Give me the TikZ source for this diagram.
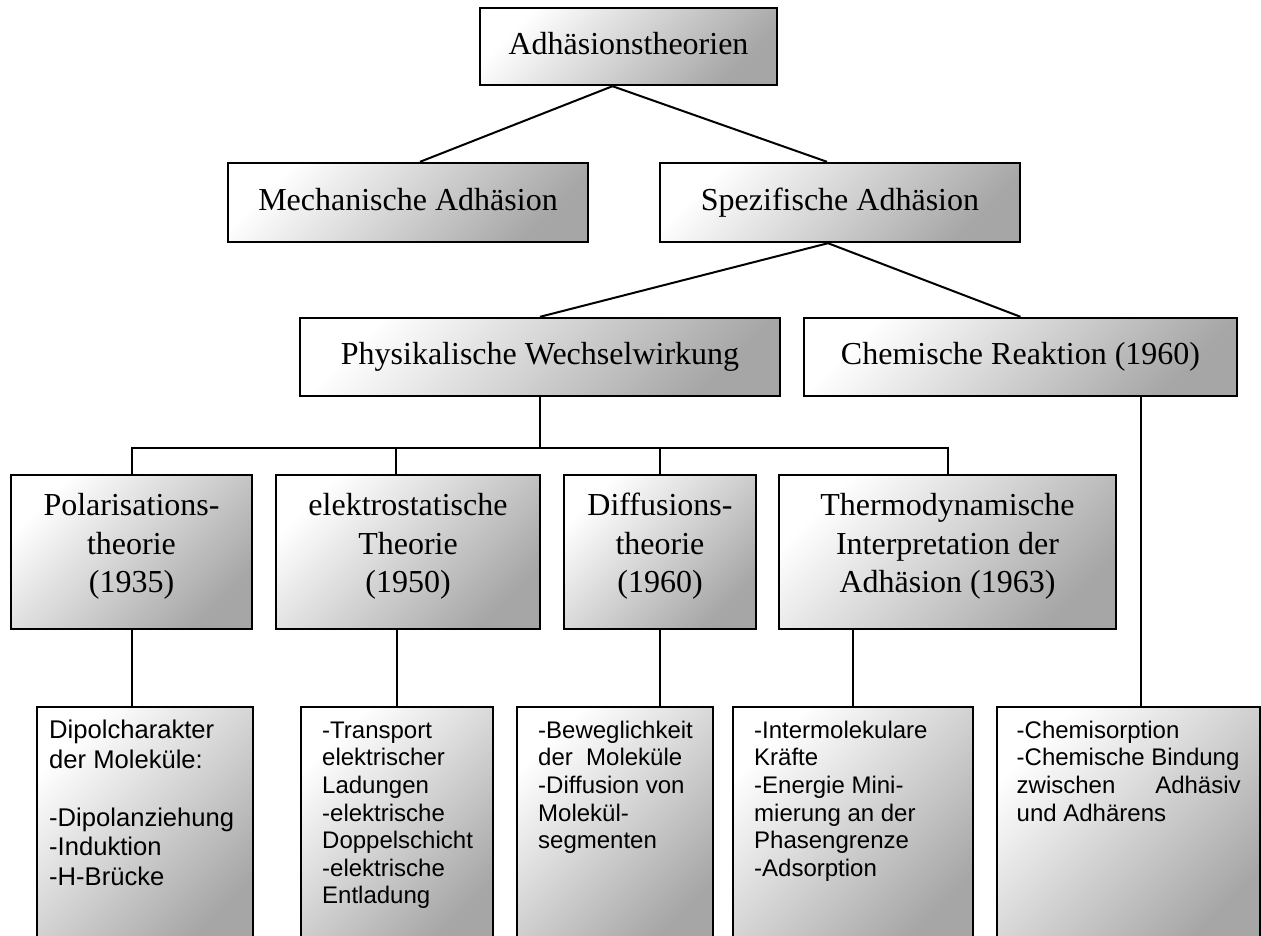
\documentclass[tikz,border=0pt]{standalone}
\usepackage{fontspec}
\setmainfont{Liberation Serif}[Ligatures=NoCommon]
\newfontfamily\arialfont{Liberation Sans}[Ligatures=NoCommon]
\newcommand\lastdp{\rule[-18pt]{0pt}{18pt}}
\newcommand\lowtext[2]{\parbox[c][213pt][t]{#1}{\raggedright\hyphenpenalty=10000 \exhyphenpenalty=10000 \rule{0pt}{18pt}#2}}
\begin{document}
\begin{tikzpicture}[x=1pt,y=-1pt,
  box/.style={draw=black, line width=2.4pt, top color=white, bottom color=black!35, shading angle=45, inner sep=0pt},
  upbox/.style={box, font=\fontsize{32}{38.5}\selectfont, text height=22pt, text depth=7pt},
  midbox/.style={box, font=\fontsize{32}{38.5}\selectfont, align=center, minimum height=154pt},
  lowbox/.style={box, anchor=north west, inner ysep=13pt, font=\arialfont\fontsize{24}{27.6}\selectfont},
  conn/.style={line width=2pt}
]
\useasboundingbox (0,0) rectangle (1261,935);
\clip (0,0) rectangle (1261,935);
% level 1-3
\node[upbox, minimum width=297pt, minimum height=77pt] (top) at (628.5,46.5) {Adhäsionstheorien};
\node[upbox, minimum width=360pt, minimum height=79pt] (mech) at (408,202.5) {Mechanische Adhäsion};
\node[upbox, minimum width=360pt, minimum height=79pt] (spez) at (840,202.5) {Spezifische Adhäsion};
\node[upbox, minimum width=480pt, minimum height=78pt] (phys) at (540,357) {Physikalische Wechselwirkung};
\node[upbox, minimum width=433pt, minimum height=78pt] (chem) at (1020.5,357) {Chemische Reaktion (1960)};
% level 4
\node[midbox, minimum width=241pt] (pol) at (131.5,552) {Polarisations-\\theorie\\(1935)\lastdp};
\node[midbox, minimum width=264pt] (elek) at (408,552) {elektrostatische\\Theorie\\(1950)\lastdp};
\node[midbox, minimum width=192pt] (diff) at (660,552) {Diffusions-\\theorie\\(1960)\lastdp};
\node[midbox, minimum width=337pt] (thermo) at (947.5,552) {Thermodynamische\\Interpretation der\\Adhäsion (1963)\lastdp};
% level 5
\node[lowbox, inner xsep=12pt, font=\arialfont\fontsize{25.6}{29.3}\selectfont] (la) at (36,706) {\lowtext{192pt}{Dipolcharakter\\der Moleküle:\\[29.3pt]-Dipolanziehung\\-Induktion\\-H-Brücke}};
\node[lowbox, inner xsep=21pt] (lb) at (300,706) {\lowtext{150pt}{-Transport\\elektrischer\\Ladungen\\-elektrische\\Doppelschicht\\-elektrische\\Entladung}};
\node[lowbox, inner xsep=21pt] (lc) at (516,706) {\lowtext{154pt}{-Beweglichkeit\\der\ \ Moleküle\\-Diffusion von\\Molekül-\\segmenten}};
\node[lowbox, inner xsep=21pt] (ld) at (732,706) {\lowtext{198pt}{-Intermolekulare\\Kräfte\\-Energie Mini-\\mierung an der\\Phasengrenze\\-Adsorption}};
\node[lowbox, inner xsep=19.5pt] (le) at (996,706) {\lowtext{224pt}{-Chemisorption\\-Chemische Bindung\\\leavevmode\hbox to \linewidth{zwischen\hfill Adhäsiv}\\und Adhärens}};
% connectors
\draw[conn] ([xshift=-16pt]top.south) -- ([xshift=12pt]mech.north);
\draw[conn] ([xshift=-16pt]top.south) -- ([xshift=-13pt]spez.north);
\draw[conn] ([xshift=-12pt]spez.south) -- (phys.north);
\draw[conn] ([xshift=-12pt]spez.south) -- (chem.north);
\coordinate (bus) at (0,448);
\draw[conn] (phys.south) -- (phys.south |- bus);
\draw[conn] (pol.north) -- (pol.north |- bus) -- (thermo.north |- bus) -- (thermo.north);
\draw[conn] ([xshift=-12pt]elek.north) -- ([xshift=-12pt]elek.north |- bus);
\draw[conn] (diff.north) -- (diff.north |- bus);
\draw[conn] (pol.south) -- (pol.south |- la.north);
\draw[conn] (lb.north) -- (lb.north |- elek.south);
\draw[conn] (diff.south) -- (diff.south |- lc.north);
\draw[conn] (ld.north) -- (ld.north |- thermo.south);
\draw[conn] ([xshift=12.5pt]le.north) -- ([xshift=12.5pt]le.north |- chem.south);
\end{tikzpicture}
\end{document}
